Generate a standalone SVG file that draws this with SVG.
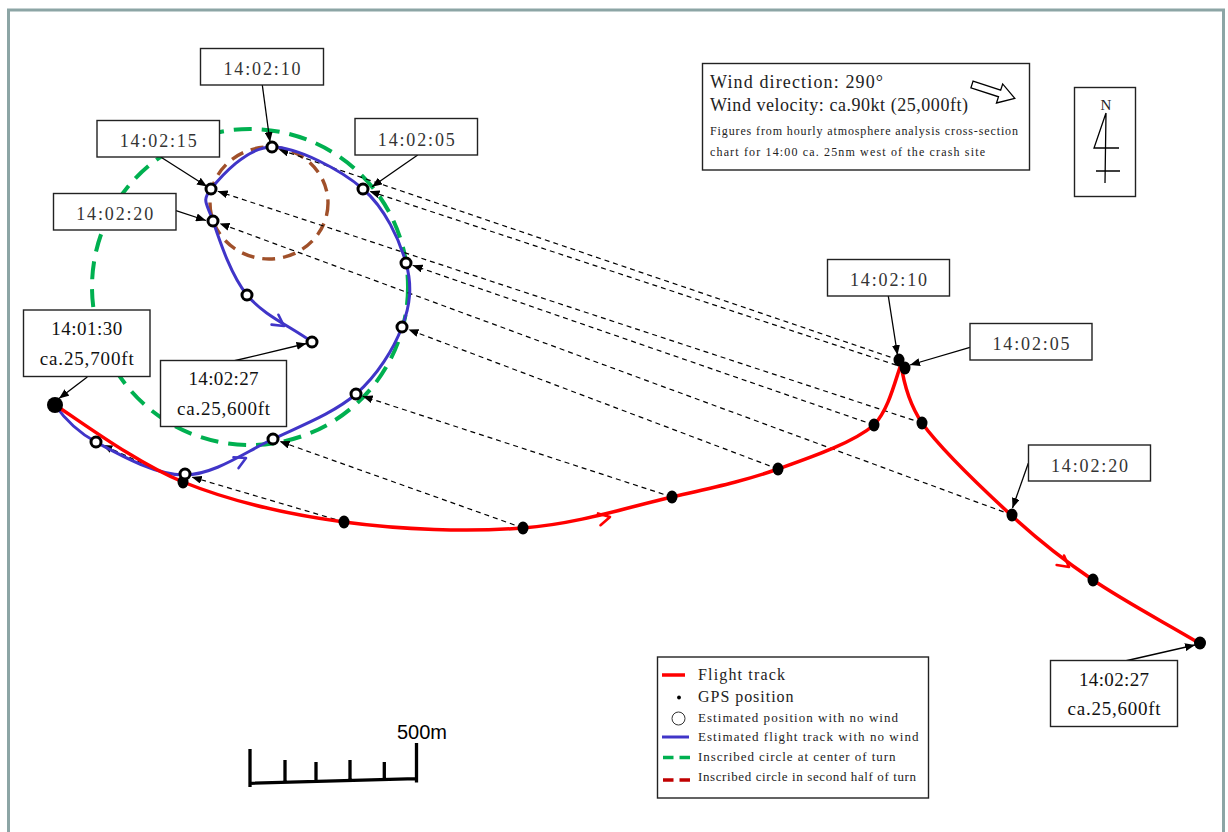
<svg xmlns="http://www.w3.org/2000/svg" width="1228" height="832" viewBox="0 0 1228 832">
<style>
.box{fill:#fff;stroke:#222;stroke-width:1.4}
.t{font-family:"Liberation Serif",serif;fill:#222}
.tm{font-family:"Liberation Serif",serif;font-size:18px;fill:#333;text-anchor:middle}
.tl{font-family:"Liberation Serif",serif;font-size:19px;fill:#111;text-anchor:middle}
.lead{stroke:#000;stroke-width:1.3;fill:none;marker-end:url(#ah)}
.dash{stroke:#000;stroke-width:1.2;fill:none;stroke-dasharray:5 4;marker-end:url(#ah)}
.gps{fill:#000}
.est{fill:#fff;stroke:#000;stroke-width:3}
.chev{fill:none;stroke-width:2.6;stroke-linecap:round;stroke-linejoin:round}
</style>
<defs>
<marker id="ah" viewBox="0 0 10 8" refX="10" refY="4" markerWidth="10" markerHeight="8" markerUnits="userSpaceOnUse" orient="auto"><path d="M0,0L10,4L0,8z" fill="#000"/></marker>
<path id="chev" d="M-11,-6 L0,0 L-11,6"/>
</defs>
<rect x="8.5" y="10" width="1215" height="840" fill="#fff" stroke="#8ca5a5" stroke-width="3"/>

<g id="circles">
<circle cx="250" cy="287" r="158" fill="none" stroke="#00b050" stroke-width="4" stroke-dasharray="18 10"/>
<ellipse cx="269" cy="203" rx="59" ry="56" fill="none" stroke="#a0502a" stroke-width="3.4" stroke-dasharray="13 8"/>
</g>

<g id="connectors">
<line class="dash" x1="183" y1="482" x2="102.4" y2="444.9"/>
<line class="dash" x1="344" y1="522" x2="191.7" y2="477"/>
<line class="dash" x1="523" y1="528" x2="279.6" y2="441.3"/>
<line class="dash" x1="672" y1="497" x2="362.7" y2="396.2"/>
<line class="dash" x1="778" y1="469" x2="408.5" y2="329.5"/>
<line class="dash" x1="874" y1="425" x2="412.6" y2="265.3"/>
<line class="dash" x1="905" y1="368" x2="369.6" y2="191.2"/>
<line class="dash" x1="899" y1="360" x2="278.6" y2="149.3"/>
<line class="dash" x1="922" y1="423" x2="217.7" y2="191.2"/>
<line class="dash" x1="1012" y1="515" x2="219.6" y2="223.4"/>
</g>

<g id="blue-track">
<path d="M55,405 C62,415 74.3,430.3 96,442 C117.7,453.7 155.5,475.5 185,475 C214.5,474.5 244.5,452.5 273,439 C301.5,425.5 334.5,412.7 356,394 C377.5,375.3 393.7,348.8 402,327 C410.3,305.2 412.5,286 406,263 C399.5,240 385.3,208.3 363,189 C340.7,169.7 297.3,147 272,147 C246.7,147 220.8,176.7 211,189 C201.2,201.3 207,203.3 213,221 C219,238.7 230.5,274.8 247,295 C263.5,315.2 290.3,326.3 312,342" fill="none" stroke="#4035c8" stroke-width="3"/>
<use href="#chev" class="chev" stroke="#4035c8" transform="translate(246,458) rotate(-25)"/>
<use href="#chev" class="chev" stroke="#4035c8" transform="translate(284,326) rotate(35)"/>
</g>

<g id="red-track">
<path d="M55,405 C76,418 134.8,462.5 183,482 C231.2,501.5 287.3,514.3 344,522 C400.7,529.7 468.3,532.2 523,528 C577.7,523.8 629.5,506.8 672,497 C714.5,487.2 744.3,481 778,469 C811.7,457 853.3,442.7 874,425 C888,410 894,385 901,364" fill="none" stroke="#ff0000" stroke-width="3.5"/>
<path d="M901,364 C904,385 910,405 922,423 C940,448 982.5,488.8 1011,515 C1039.5,541.2 1061.7,558.7 1093,580 C1124.3,601.3 1163.7,622 1199,643" fill="none" stroke="#ff0000" stroke-width="3.5"/>
<use href="#chev" class="chev" stroke="#ff0000" transform="translate(610,517) rotate(-12)"/>
<use href="#chev" class="chev" stroke="#ff0000" transform="translate(1069,567) rotate(38)"/>
</g>

<g id="gps-positions">
<circle class="gps" cx="55" cy="405" r="8"/>
<ellipse class="gps" cx="183" cy="482" rx="5.5" ry="6.5"/>
<ellipse class="gps" cx="344" cy="522" rx="5.5" ry="6.5"/>
<ellipse class="gps" cx="523" cy="528" rx="5.5" ry="6.5"/>
<ellipse class="gps" cx="672" cy="497" rx="5.5" ry="6.5"/>
<ellipse class="gps" cx="778" cy="469" rx="5.5" ry="6.5"/>
<ellipse class="gps" cx="874" cy="425" rx="5.5" ry="6.5"/>
<ellipse class="gps" cx="899" cy="360" rx="5.5" ry="6.5"/>
<ellipse class="gps" cx="905" cy="368" rx="5.5" ry="6.5"/>
<ellipse class="gps" cx="922" cy="423" rx="5.5" ry="6.5"/>
<ellipse class="gps" cx="1012" cy="515" rx="5.5" ry="6.5"/>
<ellipse class="gps" cx="1093" cy="580" rx="5.5" ry="6.5"/>
<ellipse class="gps" cx="1200" cy="643" rx="6" ry="6.5"/>
</g>

<g id="estimated-positions">
<circle class="est" cx="96" cy="442" r="5"/>
<circle class="est" cx="185" cy="474" r="5"/>
<circle class="est" cx="273" cy="439" r="5"/>
<circle class="est" cx="356" cy="394" r="5"/>
<circle class="est" cx="402" cy="327" r="5"/>
<circle class="est" cx="406" cy="263" r="5"/>
<circle class="est" cx="363" cy="189" r="5"/>
<circle class="est" cx="272" cy="147" r="5"/>
<circle class="est" cx="211" cy="189" r="5"/>
<circle class="est" cx="213" cy="221" r="5"/>
<circle class="est" cx="247" cy="295" r="5"/>
<circle class="est" cx="312" cy="342" r="5"/>
</g>

<g id="leaders">
<line class="lead" x1="262.3" y1="85" x2="270" y2="142"/>
<line class="lead" x1="160.7" y1="157" x2="207" y2="186.5"/>
<line class="lead" x1="417.7" y1="155" x2="372" y2="186.7"/>
<line class="lead" x1="176" y1="210.7" x2="206" y2="220.5"/>
<line class="lead" x1="87.3" y1="377" x2="59" y2="398.5"/>
<line class="lead" x1="233.3" y1="361" x2="306.5" y2="343.5"/>
<line class="lead" x1="888.3" y1="296" x2="897.5" y2="355"/>
<line class="lead" x1="970" y1="347.3" x2="910" y2="365"/>
<line class="lead" x1="1028.3" y1="463.3" x2="1012.5" y2="508"/>
<line class="lead" x1="1125" y1="661" x2="1195" y2="645"/>
</g>

<g id="label-1410-left"><rect class="box" x="200.5" y="48.5" width="123" height="36.5"/><text class="tm" x="262" y="75" textLength="77">14:02:10</text></g>
<g id="label-1415-left"><rect class="box" x="97" y="120.5" width="122.5" height="36.5"/><text class="tm" x="158.2" y="146.5" textLength="77">14:02:15</text></g>
<g id="label-1405-left"><rect class="box" x="355" y="118.5" width="122.5" height="36.5"/><text class="tm" x="416.3" y="146" textLength="77">14:02:05</text></g>
<g id="label-1420-left"><rect class="box" x="53.5" y="193.5" width="122.5" height="36.5"/><text class="tm" x="114.7" y="220" textLength="77">14:02:20</text></g>
<g id="label-1330"><rect class="box" x="23.5" y="310" width="126.5" height="66.5"/><text class="tl" x="86.7" y="335" textLength="71">14:01:30</text><text class="tl" x="86.7" y="365" textLength="94">ca.25,700ft</text></g>
<g id="label-1427-left"><rect class="box" x="160.5" y="360.5" width="126" height="66"/><text class="tl" x="223.5" y="385" textLength="70">14:02:27</text><text class="tl" x="223.5" y="414.5" textLength="93">ca.25,600ft</text></g>
<g id="label-1410-right"><rect class="box" x="827.5" y="259.5" width="122" height="36.5"/><text class="tm" x="888.5" y="286" textLength="77">14:02:10</text></g>
<g id="label-1405-right"><rect class="box" x="970" y="323.5" width="122" height="36.5"/><text class="tm" x="1031" y="350" textLength="77">14:02:05</text></g>
<g id="label-1420-right"><rect class="box" x="1028.5" y="445" width="122" height="36"/><text class="tm" x="1089.5" y="471.5" textLength="77">14:02:20</text></g>
<g id="label-1427-right"><rect class="box" x="1050.5" y="660.5" width="127" height="66"/><text class="tl" x="1114" y="686" textLength="70">14:02:27</text><text class="tl" x="1114" y="715" textLength="93">ca.25,600ft</text></g>

<g id="wind-box">
<rect class="box" x="702.5" y="63.5" width="327" height="106.5"/>
<text class="t" x="710" y="87.5" font-size="18" textLength="173">Wind direction: 290°</text>
<text class="t" x="710" y="111" font-size="18" textLength="258">Wind velocity: ca.90kt (25,000ft)</text>
<text class="t" x="710" y="135" font-size="12" textLength="308">Figures from hourly atmosphere analysis cross-section</text>
<text class="t" x="710" y="156" font-size="12" textLength="275">chart for 14:00 ca. 25nm west of the crash site</text>
<polygon points="0,-3.5 29,-3.5 29,-10 45,0 29,10 29,3.5 0,3.5" fill="#fff" stroke="#000" stroke-width="1.3" transform="translate(972,84.5) rotate(18)"/>
</g>

<g id="north">
<rect class="box" x="1074.5" y="87.5" width="61" height="109"/>
<text class="t" x="1106" y="110" font-size="15" text-anchor="middle">N</text>
<path d="M1106,113 L1105,183 M1106,113 L1094,148 L1119,148 M1096,171 L1120,171" fill="none" stroke="#000" stroke-width="1.3"/>
</g>

<g id="legend">
<rect class="box" x="657.5" y="657" width="271" height="141"/>
<line x1="662" y1="675" x2="685" y2="675" stroke="#ff0000" stroke-width="3.5"/>
<text class="t" x="698" y="679.5" font-size="16" textLength="87">Flight track</text>
<circle cx="679" cy="697.5" r="1.9" fill="#000"/>
<text class="t" x="698" y="701.5" font-size="16" textLength="95.5">GPS position</text>
<circle cx="678.5" cy="718.5" r="6.5" fill="none" stroke="#333" stroke-width="1"/>
<text class="t" x="698" y="722" font-size="13" textLength="200">Estimated position with no wind</text>
<line x1="662" y1="737" x2="689" y2="737" stroke="#4035c8" stroke-width="3"/>
<text class="t" x="698" y="740.5" font-size="13" textLength="220.5">Estimated flight track with no wind</text>
<line x1="663" y1="757.5" x2="690" y2="757.5" stroke="#00b050" stroke-width="3.5" stroke-dasharray="10.5 6"/>
<text class="t" x="698" y="760.5" font-size="13" textLength="197.5">Inscribed circle at center of turn</text>
<line x1="663" y1="780" x2="690" y2="780" stroke="#c00000" stroke-width="3.5" stroke-dasharray="10.5 6"/>
<text class="t" x="698" y="781" font-size="13" textLength="218">Inscribed circle in second half of turn</text>
</g>

<g id="scale-bar">
<path d="M250,749 L250,787 M250,783.3 L416.5,778.7 M416.5,743 L416.5,782.5 M285,760 L285,782.3 M316,762 L316,781.5 M350,760 L350,780.5 M384.3,762 L384.3,779.6" fill="none" stroke="#000" stroke-width="3.3"/>
<text x="397" y="739" font-family="Liberation Sans, Arial, sans-serif" font-size="20" fill="#000">500m</text>
</g>
</svg>
